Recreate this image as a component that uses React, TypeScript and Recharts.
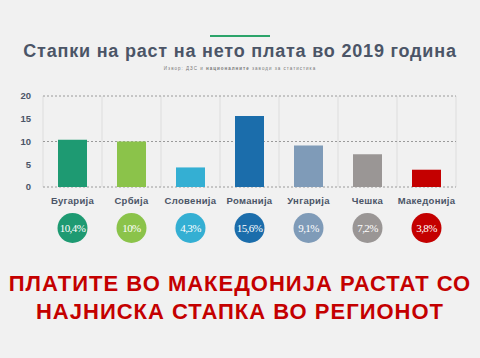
import { BarChart, Bar, XAxis, YAxis, CartesianGrid, Cell } from "recharts";

const countries = ["Бугарија", "Србија", "Словенија", "Романија", "Унгарија", "Чешка", "Македонија"];
const growth = [10.4, 10, 4.3, 15.6, 9.1, 7.2, 3.8];
const colors = ["#1e9a72", "#8bc34a", "#34afd3", "#1b6dab", "#7f9bb8", "#9a9695", "#c40000"];
const yTicks = [0, 5, 10, 15, 20];

const data = countries.map((c, i) => ({ country: c, value: growth[i] }));

const fmt = (v: number) => String(v).replace(".", ",") + "%";

const CountryTick = (props: any) => {
  const { x, y, payload } = props;
  const i = payload.index;
  return (
    <g>
      <text x={x} y={y + 9} textAnchor="middle" fontSize={9.5} letterSpacing={0.3} fontWeight="bold" fill="#4b5567" fontFamily="Liberation Sans, Arial, sans-serif">
        {payload.value}
      </text>
      <circle cx={x} cy={y + 33} r={15} fill={colors[i]} />
      <text x={x} y={y + 37} textAnchor="middle" fontSize={11} letterSpacing={-0.6} fill="#fff" fontFamily="Liberation Serif, serif">
        {fmt(growth[i])}
      </text>
    </g>
  );
};

export default function App() {
  return (
    <div style={{ position: "fixed", left: 0, top: 0, width: 480, height: 358, background: "#f1f1f1", fontFamily: "Liberation Sans, Arial, sans-serif" }}>
      <div style={{ position: "absolute", left: 210, top: 35, width: 60, height: 2, background: "#2ca46a" }} />
      <div style={{ position: "absolute", left: 0, top: 41, width: 480, textAlign: "center", fontSize: 18, letterSpacing: 0.8, fontWeight: "bold", color: "#4b5567" }}>
        Стапки на раст на нето плата во 2019 година
      </div>
      <div style={{ position: "absolute", left: 0, top: 66, width: 480, textAlign: "center", fontSize: 4.5, letterSpacing: 1, color: "#777" }}>
        Извор: ДЗС и <b>националните</b> заводи за статистика
      </div>
      <div style={{ position: "absolute", left: 0, top: 0 }}>
        <BarChart width={480} height={358} data={data} margin={{ top: 96, right: 24, bottom: 151, left: 13 }}>
          <CartesianGrid
            horizontal={false}
            stroke="#dddddd"
            verticalCoordinatesGenerator={({ offset }: any) =>
              countries.map((_, i) => offset.left + (i * offset.width) / countries.length).concat([offset.left + offset.width])
            }
          />
          <CartesianGrid vertical={false} stroke="#9a9a9a" strokeDasharray="2 2" />
          <XAxis dataKey="country" height={20} tickLine={false} axisLine={false} interval={0} tick={<CountryTick />} />
          <YAxis domain={[0, 20]} ticks={yTicks} width={30} tickLine={false} axisLine={false} tickMargin={6}
            tick={{ fontSize: 9.5, fontWeight: "bold", fill: "#4b5567" }} />
          <Bar dataKey="value" barSize={29} isAnimationActive={false}>
            {data.map((d, i) => (
              <Cell key={d.country} fill={colors[i]} />
            ))}
          </Bar>
        </BarChart>
      </div>
      <div style={{ position: "absolute", left: 0, top: 270, width: 480, textAlign: "center", fontSize: 22, letterSpacing: 1, lineHeight: "28px", fontWeight: "bold", color: "#c40000" }}>
        ПЛАТИТЕ ВО МАКЕДОНИЈА РАСТАТ СО<br />НАЈНИСКА СТАПКА ВО РЕГИОНОТ
      </div>
    </div>
  );
}
